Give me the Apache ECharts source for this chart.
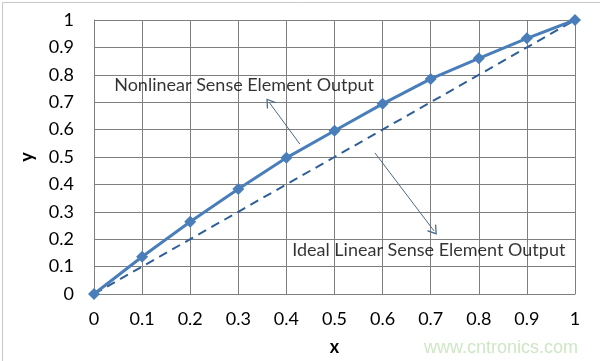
<!DOCTYPE html>
<html><head><meta charset="utf-8">
<script src="https://cdn.jsdelivr.net/npm/echarts@6/dist/echarts.min.js"></script>
<style>html,body{margin:0;padding:0;background:#fff}#c{width:600px;height:361px}</style>
</head><body><div id="c"></div>
<script>
var xValues = [0, 0.1, 0.2, 0.3, 0.4, 0.5, 0.6, 0.7, 0.8, 0.9, 1];
var nonlinearValues = [0, 0.136, 0.264, 0.383, 0.497, 0.596, 0.694, 0.785, 0.86, 0.933, 1];
var idealValues = [0, 0.1, 0.2, 0.3, 0.4, 0.5, 0.6, 0.7, 0.8, 0.9, 1];
var nonlinearLabel = 'Nonlinear Sense Element Output';
var idealLabel = 'Ideal Linear Sense Element Output';
var nonlinearLabelAt = [0.042, 0.763];
var idealLabelAt = [0.412, 0.16];
var nonlinearArrow = [[0.428, 0.547], [0.364, 0.70]];
var idealArrow = [[0.584, 0.515], [0.707, 0.23]];

var FONT = 'Lato, Carlito, "Liberation Sans", sans-serif';
var chart = echarts.init(document.getElementById('c'), null, {renderer: 'canvas'});
function pairs(xs, ys){ return xs.map(function(x,i){return [x, ys[i]];}); }
var chevron = 'path://M0,0 L6,9 L5,10 L0,2.5 L-5,10 L-6,9 Z';
chart.setOption({
  animation: false,
  backgroundColor: '#fff',
  grid: {left: 94, top: 20, right: 25, bottom: 67, show: false},
  graphic: [
    {type: 'rect', left: 0, top: 0, shape: {x: 0, y: 0, width: 598, height: 359}, style: {fill: 'none', stroke: '#c8c8c8', lineWidth: 1}, silent: true},
    {type: 'text', right: 22, bottom: 4, style: {text: 'www.cntronics.com', fill: '#cfe6c6', font: '18px "Liberation Sans", Arial, sans-serif'}, silent: true}
  ],
  xAxis: {
    type: 'value', min: 0, max: 1, interval: 0.1,
    name: 'x', nameLocation: 'middle', nameGap: 44,
    nameTextStyle: {fontFamily: FONT, fontSize: 18, fontWeight: 'bold', color: '#000'},
    axisLine: {show: true, lineStyle: {color: '#7f7f7f', width: 1}},
    axisTick: {show: false},
    splitLine: {show: true, lineStyle: {color: '#7f7f7f', width: 1}},
    axisLabel: {margin: 16, fontFamily: FONT, fontSize: 18, color: '#000',
      formatter: function(v){ return String(Math.round(v*10)/10); }}
  },
  yAxis: {
    type: 'value', min: 0, max: 1, interval: 0.1,
    name: 'y', nameLocation: 'middle', nameGap: 58, nameRotate: 90,
    nameTextStyle: {fontFamily: FONT, fontSize: 18, fontWeight: 'bold', color: '#000'},
    axisLine: {show: true, lineStyle: {color: '#7f7f7f', width: 1}},
    axisTick: {show: false},
    splitLine: {show: true, lineStyle: {color: '#7f7f7f', width: 1}},
    axisLabel: {margin: 20, fontFamily: FONT, fontSize: 18, color: '#000',
      formatter: function(v){ return String(Math.round(v*10)/10); }}
  },
  series: [
    {
      type: 'line', name: 'ideal', data: pairs(xValues, idealValues),
      showSymbol: false, symbol: 'none',
      lineStyle: {color: '#2f5f99', width: 2, type: [9, 6]},
      z: 2,
      markLine: {
        silent: true, symbol: ['none', chevron], symbolSize: 11, symbolKeepAspect: true,
        lineStyle: {color: '#4a6a8c', width: 1, type: 'solid'},
        label: {show: false},
        data: [
          [{coord: nonlinearArrow[0]}, {coord: nonlinearArrow[1]}],
          [{coord: idealArrow[0]}, {coord: idealArrow[1]}]
        ]
      }
    },
    {
      type: 'line', name: 'nonlinear', data: pairs(xValues, nonlinearValues),
      symbol: 'diamond', symbolSize: 12,
      itemStyle: {color: '#4a7ebb'},
      lineStyle: {color: '#4a7ebb', width: 3},
      z: 3
    },
    {
      type: 'scatter', name: 'labels', symbolSize: 0, silent: true,
      data: [
        {value: nonlinearLabelAt, label: {formatter: nonlinearLabel}},
        {value: idealLabelAt, label: {formatter: idealLabel}}
      ],
      label: {show: true, position: 'right', distance: 0, fontFamily: FONT, fontSize: 18, color: '#000'},
      z: 4
    }
  ]
});
</script></body></html>
